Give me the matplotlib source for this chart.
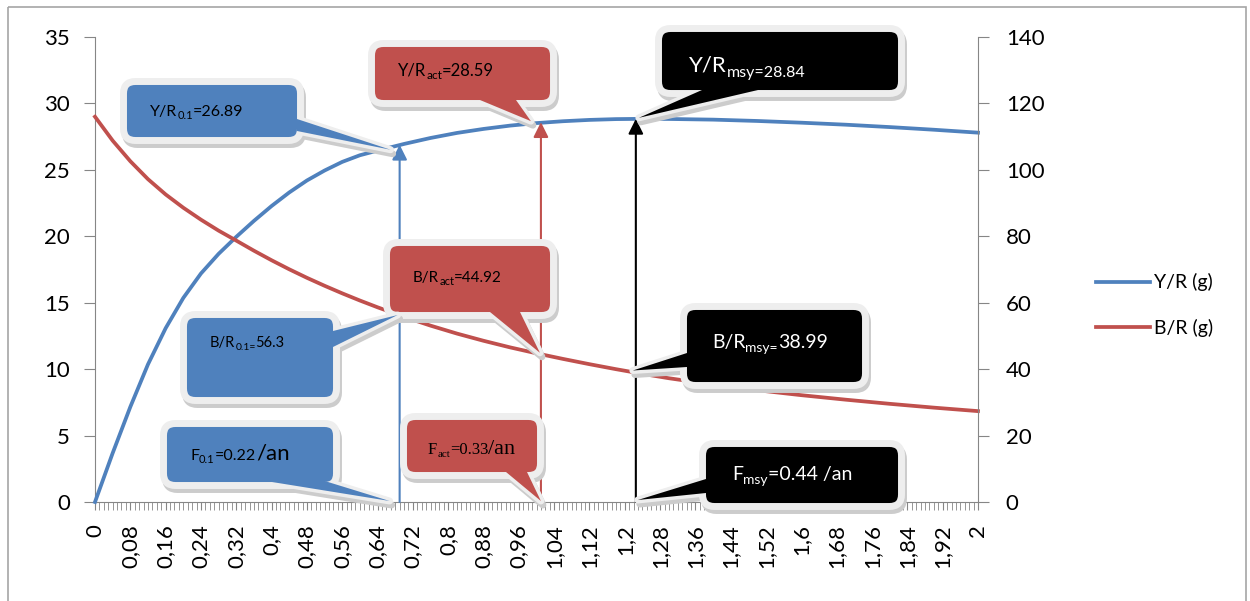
import numpy as np
import matplotlib.pyplot as plt
from matplotlib.patches import FancyBboxPatch, Polygon, Rectangle
from matplotlib.lines import Line2D

plt.rcParams['font.family'] = ['Lato', 'DejaVu Sans']

# mortalite par peche F (axe des categories)
f_vals = [0, 0.04, 0.08, 0.12, 0.16, 0.20, 0.24, 0.28, 0.32, 0.36, 0.40, 0.44,
          0.48, 0.52, 0.56, 0.60, 0.64, 0.70, 0.76, 0.82, 0.88, 0.94, 1.00,
          1.06, 1.12, 1.18, 1.24, 1.30, 1.40, 1.50, 1.60, 1.70, 1.80, 1.90, 2.00]
# rendement par recrue Y/R (g), axe gauche
yr_vals = [0, 3.68, 7.16, 10.36, 13.08, 15.36, 17.2, 18.68, 19.96, 21.16, 22.28,
           23.3, 24.2, 24.95, 25.6, 26.1, 26.45, 26.95, 27.4, 27.78, 28.08, 28.33,
           28.52, 28.66, 28.76, 28.82, 28.84, 28.83, 28.78, 28.68, 28.55, 28.4,
           28.22, 28.02, 27.8]
# biomasse par recrue B/R (g), axe droit
br_vals = [116, 108.8, 102.6, 97.2, 92.6, 88.6, 85.0, 81.7, 78.7, 75.66, 72.78,
           70.06, 67.5, 65.1, 62.82, 60.66, 58.62, 55.74, 53.1, 50.7, 48.54, 46.56,
           44.76, 43.08, 41.49, 39.99, 38.58, 37.26, 35.36, 33.66, 32.16, 30.81,
           29.56, 28.41, 27.36]

# points de reference F0.1, Fact, Fmsy
ref_f = [0.69, 1.01, 1.225]
ref_yr = [26.89, 28.59, 28.84]
ref_br = [56.3, 44.92, 38.99]

xlabels = ['0', '0,08', '0,16', '0,24', '0,32', '0,4', '0,48', '0,56', '0,64',
           '0,72', '0,8', '0,88', '0,96', '1,04', '1,12', '1,2', '1,28', '1,36',
           '1,44', '1,52', '1,6', '1,68', '1,76', '1,84', '1,92', '2']
left_ticks = [0, 5, 10, 15, 20, 25, 30, 35]
right_ticks = [0, 20, 40, 60, 80, 100, 120, 140]

BLUE = '#4F81BD'
RED = '#C0504D'
GRID = '#868686'
BORDER = '#eeeeee'

W, H = 1250, 601
fig = plt.figure(figsize=(W / 100, H / 100), dpi=100)
ax = fig.add_axes([95 / W, 1 - 502 / H, (978 - 95) / W, (502 - 37) / H])
ax2 = ax.twinx()

ax.set_xlim(0, 2)
ax.set_ylim(0, 35)
ax2.set_ylim(0, 140)

ax.plot(f_vals, yr_vals, color=BLUE, lw=2.7, clip_on=False, zorder=3)
ax2.plot(f_vals, br_vals, color=RED, lw=2.7, clip_on=False, zorder=2)

for a in (ax, ax2):
    a.spines['top'].set_visible(False)
    for s in a.spines.values():
        s.set_color(GRID)
ax.spines['right'].set_visible(False)
ax2.spines['left'].set_visible(False)
ax2.spines['bottom'].set_visible(False)

ax.set_yticks(left_ticks)
ax2.set_yticks(right_ticks)
ax.set_xticks([float(s.replace(',', '.')) for s in xlabels])
ax.set_xticklabels(xlabels, rotation=90)
ax.set_xticks(np.arange(0, 2.001, 0.01), minor=True)
ax.tick_params(axis='y', direction='out', length=8, color=GRID, labelsize=16, pad=10)
ax2.tick_params(axis='y', direction='out', length=8, color=GRID, labelsize=16, pad=12)
ax.tick_params(axis='x', which='both', direction='out', length=6, color=GRID,
               labelsize=16, pad=10)

# fleches verticales
for x, y, c in zip(ref_f, ref_yr, [BLUE, RED, 'black']):
    ax2.annotate('', xy=(x, y), xycoords=ax.transData, xytext=(x, 0),
                 textcoords=ax.transData,
                 arrowprops=dict(arrowstyle='-|>,head_length=0.6,head_width=0.3',
                                 mutation_scale=15, color=c, lw=1.5,
                                 shrinkA=0, shrinkB=0), zorder=4)

# calque en pixels pour les bulles
ov = fig.add_axes([0, 0, 1, 1], zorder=5)
ov.set_xlim(0, W)
ov.set_ylim(H, 0)
ov.axis('off')
ov.add_patch(Rectangle((8, 7), 1238, 610, fill=False, ec='#a6a6a6', lw=1.2))

rend = fig.canvas.get_renderer()


def to_px(axis, x, y, off):
    d = axis.transData.transform((x, y))
    px, py = ov.transData.inverted().transform(d)
    return (px + off[0], py + off[1])


def callout(box, base, tip, color, r=12):
    x0, y0, x1, y1 = box
    e = 3.5
    tail = [base[0], tip, base[1]]
    dx, dy = 2, 4
    ov.add_patch(FancyBboxPatch((x0 - e + dx, y0 - e + dy), x1 - x0 + 2 * e, y1 - y0 + 2 * e,
                                boxstyle=f'round,pad=0,rounding_size={r}',
                                fc='#cccccc', ec='#cccccc', lw=5))
    ov.add_patch(Polygon([(p[0] + dx, p[1] + dy) for p in tail], fc='#cccccc',
                         ec='#cccccc', lw=5, joinstyle='round'))
    ov.add_patch(Polygon(tail, fc=color, ec=BORDER, lw=5, joinstyle='round'))
    ov.add_patch(FancyBboxPatch((x0 - e, y0 - e), x1 - x0 + 2 * e, y1 - y0 + 2 * e,
                                boxstyle=f'round,pad=0,rounding_size={r}',
                                fc=color, ec=BORDER, lw=5))
    ov.add_patch(Polygon(tail, fc=color, ec='none'))


def label(parts, x, y, color, family=None):
    for txt, size, dy in parts:
        kw = {}
        if family:
            kw['family'] = family
        t = ov.text(x, y + dy, txt, fontsize=size, color=color, ha='left',
                    va='baseline', **kw)
        bb = t.get_window_extent(rend)
        x = ov.transData.inverted().transform((bb.x1, bb.y0))[0]


bulles = [
    dict(box=(127, 85, 297, 137), base=[(297, 119), (297, 131)],
         tip=to_px(ax, ref_f[0], ref_yr[0], (-9, 5)), color=BLUE,
         parts=[('Y/R', 11.5, 0), ('0.1', 8, 3), ('=26.89', 11.5, 0)],
         pos=(150, 116), tc='black'),
    dict(box=(375, 47, 550, 100), base=[(480, 100), (516, 100)],
         tip=to_px(ax, ref_f[1], ref_yr[1], (-10, -1)), color=RED,
         parts=[('Y/R', 12, 0), ('act', 8.5, 3), ('=28.59', 12, 0)],
         pos=(398, 76), tc='black'),
    dict(box=(662, 32, 898, 90), base=[(702, 90), (758, 90)],
         tip=to_px(ax, ref_f[2], ref_yr[2], (3, -1)), color='black',
         parts=[('Y/R', 16, 0), ('msy=28.84', 11.5, 5)],
         pos=(689, 72), tc='white'),
    dict(box=(390, 246, 550, 312), base=[(490, 312), (520, 312)],
         tip=to_px(ax2, ref_f[1], ref_br[1], (-1, 0)), color=RED,
         parts=[('B/R', 11, 0), ('act', 8, 3), ('=44.92', 11, 0)],
         pos=(413, 282), tc='black'),
    dict(box=(187, 318, 333, 397), base=[(333, 331), (333, 347)],
         tip=to_px(ax2, ref_f[0], ref_br[0], (-2, 0)), color=BLUE,
         parts=[('B/R', 10.5, 0), ('0.1=', 7.5, 3), ('56.3', 10.5, 0)],
         pos=(210, 347), tc='black'),
    dict(box=(167, 427, 333, 482), base=[(272, 482), (328, 482)],
         tip=to_px(ax, ref_f[0], 0, (-10, -1)), color=BLUE,
         parts=[('F', 11.5, 0), ('0.1', 8, 3), ('=0.22', 11.5, 0), ('/an', 16, 0)],
         pos=(190, 460), tc='black'),
    dict(box=(407, 420, 537, 472), base=[(506, 472), (527, 472)],
         tip=to_px(ax, ref_f[1], 0, (0, -1)), color=RED,
         parts=[('F', 12, 0), ('act', 8, 3), ('=0.33', 12, 0), ('/an', 16, 0)],
         pos=(428, 454), tc='black', family='Liberation Serif'),
    dict(box=(687, 310, 862, 382), base=[(687, 353), (687, 367)],
         tip=to_px(ax2, ref_f[2], ref_br[2], (-3, -2)), color='black',
         parts=[('B/R', 14, 0), ('msy=', 10, 4), ('38.99', 14, 0)],
         pos=(712, 348), tc='white'),
    dict(box=(706, 447, 898, 503), base=[(706, 479), (706, 493)],
         tip=to_px(ax, ref_f[2], 0, (2, -2)), color='black',
         parts=[('F', 14, 0), ('msy', 10, 4), ('=0.44 /an', 14, 0)],
         pos=(732, 480), tc='white'),
]

for b in bulles:
    callout(b['box'], b['base'], b['tip'], b['color'])
    label(b['parts'], b['pos'][0], b['pos'][1], b['tc'], b.get('family'))

handles = [Line2D([], [], color=BLUE, lw=2.7), Line2D([], [], color=RED, lw=2.7)]
fig.legend(handles, ['Y/R (g)', 'B/R (g)'], loc='center left',
           bbox_to_anchor=(1078 / W, 1 - 305 / H), frameon=False, fontsize=14,
           handlelength=2.8, handletextpad=0.2, labelspacing=1.4)

fig.savefig('out.png', dpi=100)
